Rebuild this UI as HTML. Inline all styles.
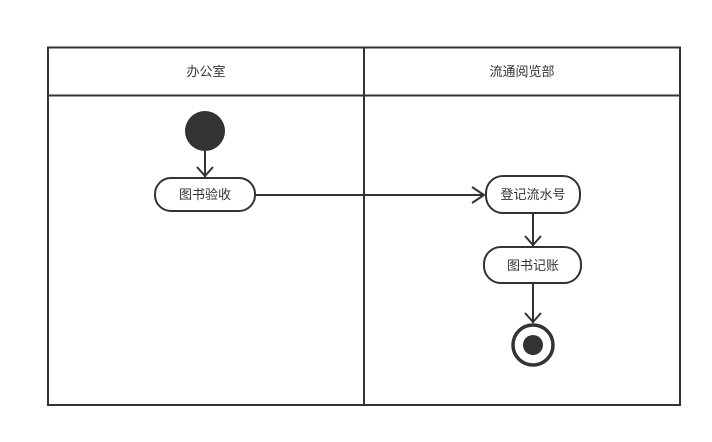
<!DOCTYPE html>
<html><head><meta charset="utf-8"><style>html,body{margin:0;padding:0;background:#fff;}</style></head>
<body>
<svg width="712" height="437" viewBox="0 0 712 437" xmlns="http://www.w3.org/2000/svg" font-family="Liberation Sans, Noto Sans CJK SC, sans-serif" font-size="13" fill="#333">
<rect x="48" y="47.5" width="632" height="357.5" fill="none" stroke="#333" stroke-width="2"/>
<line x1="48" y1="95.5" x2="680" y2="95.5" stroke="#333" stroke-width="2"/>
<line x1="364" y1="47" x2="364" y2="405" stroke="#333" stroke-width="2"/>
<text x="206" y="76" text-anchor="middle">办公室</text>
<text x="522" y="76" text-anchor="middle">流通阅览部</text>
<circle cx="205" cy="131" r="20" fill="#333"/>
<g stroke="#333" stroke-width="2" fill="none">
<line x1="205" y1="151" x2="205" y2="177"/>
<polyline points="197,167 205,176 213,167"/>
<line x1="255" y1="195" x2="484" y2="195"/>
<polyline points="472,187 484,195 472,203"/>
<line x1="533" y1="213" x2="533" y2="246"/>
<polyline points="525,236 533,245 541,236"/>
<line x1="533" y1="283" x2="533" y2="323"/>
<polyline points="525,313 533,322 541,313"/>
<rect x="155" y="178" width="100" height="33" rx="16" fill="#fff"/>
<rect x="486" y="176" width="94" height="37" rx="17" fill="#fff"/>
<rect x="484" y="247" width="97" height="36" rx="17" fill="#fff"/>
<circle cx="533" cy="345" r="20" stroke-width="3.5" fill="#fff"/>
</g>
<circle cx="533" cy="345" r="10" fill="#333"/>
<text x="205" y="199" text-anchor="middle">图书验收</text>
<text x="533" y="199" text-anchor="middle">登记流水号</text>
<text x="533" y="270" text-anchor="middle">图书记账</text>
</svg>
</body></html>
